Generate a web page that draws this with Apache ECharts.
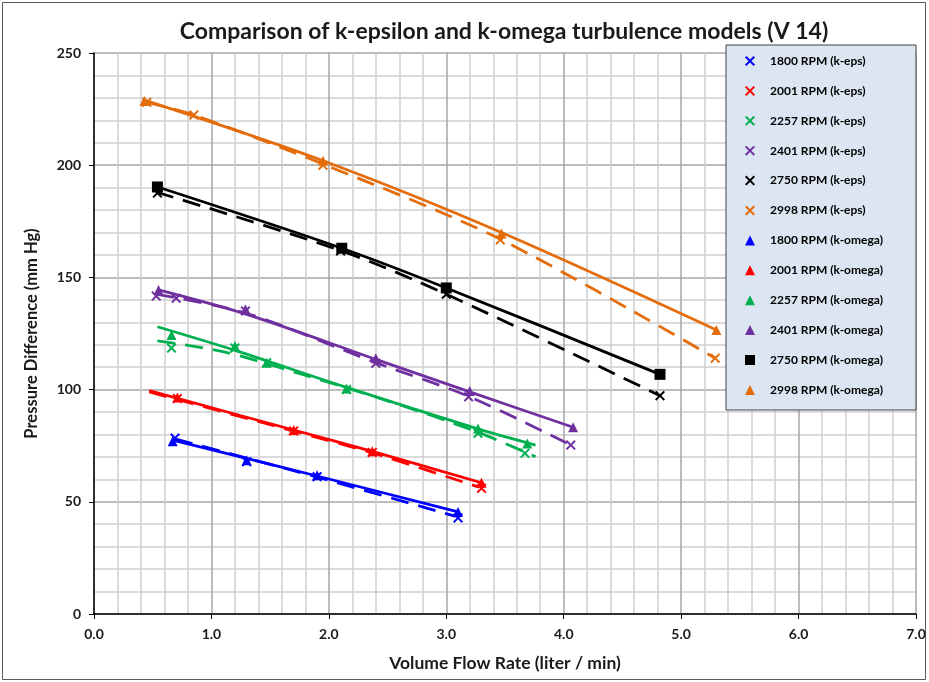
<!DOCTYPE html>
<html>
<head>
<meta charset="utf-8">
<script src="https://cdn.jsdelivr.net/npm/echarts@6/dist/echarts.min.js"></script>
<style>
  html, body { margin: 0; padding: 0; background: #fff; }
  #chart { width: 929px; height: 682px; }
</style>
</head>
<body>
<div id="chart"></div>
<script>
// speeds, in legend order
const rpms = ['1800', '2001', '2257', '2401', '2750', '2998']

// simulated points, k-epsilon model  [flow l/min, dp mmHg]
const eps1800 = [[0.69, 78.4], [1.30, 67.9], [1.90, 61.2], [3.10, 42.8]]
const eps2001 = [[0.71, 96.0], [1.70, 81.5], [2.37, 72.0], [3.30, 56.0]]
const eps2257 = [[0.66, 118.5], [1.20, 118.5], [1.47, 112.0], [2.15, 100.0], [3.27, 80.5], [3.67, 71.6]]
const eps2401 = [[0.53, 141.7], [0.70, 140.7], [1.29, 135.0], [2.40, 111.7], [3.19, 96.8], [4.06, 75.3]]
const eps2750 = [[0.54, 187.6], [2.10, 161.8], [3.00, 142.5], [4.82, 97.3]]
const eps2998 = [[0.45, 228.0], [0.85, 222.4], [1.95, 200.0], [3.46, 166.7], [5.29, 114.0]]

// simulated points, k-omega model
const omg1800 = [[0.67, 77.0], [1.30, 68.5], [1.90, 61.8], [3.10, 45.5]]
const omg2001 = [[0.71, 96.5], [1.70, 82.0], [2.37, 72.5], [3.30, 58.5]]
const omg2257 = [[0.66, 124.3], [1.20, 119.4], [1.47, 112.0], [2.15, 100.5], [3.27, 82.7], [3.69, 76.0]]
const omg2401 = [[0.55, 144.4], [1.29, 135.8], [2.40, 114.0], [3.20, 99.4], [4.08, 83.2]]
const omg2750 = [[0.54, 190.3], [2.11, 163.0], [3.00, 145.3], [4.82, 106.8]]
const omg2998 = [[0.43, 228.6], [1.95, 202.0], [3.47, 169.6], [5.30, 126.6]]

// trend lines
const epsTrend1800 = [[0.69, 78.0], [1.90, 61.0], [3.08, 43.5]]
const epsTrend2001 = [[0.47, 99.0], [1.70, 81.5], [2.37, 71.8], [3.28, 56.5]]
const epsTrend2257 = [[0.54, 121.7], [1.09, 117.0], [1.60, 109.5], [2.50, 95.0], [3.27, 81.0], [3.76, 70.1]]
const epsTrend2401 = [[0.53, 142.5], [1.30, 134.0], [2.40, 112.0], [3.19, 97.0], [4.06, 75.3]]
const epsTrend2750 = [[0.53, 188.0], [2.10, 162.0], [3.00, 142.5], [4.82, 97.3]]
const epsTrend2998 = [[0.45, 228.0], [0.85, 222.4], [1.95, 200.5], [3.46, 167.0], [5.29, 114.0]]

const omgTrend1800 = [[0.67, 77.5], [1.90, 61.5], [3.10, 45.5]]
const omgTrend2001 = [[0.47, 99.5], [1.70, 82.0], [2.37, 72.5], [3.30, 58.5]]
const omgTrend2257 = [[0.54, 128.0], [1.20, 117.5], [2.15, 101.0], [3.27, 82.5], [3.76, 75.3]]
const omgTrend2401 = [[0.55, 144.4], [1.30, 133.5], [2.40, 113.5], [3.20, 99.0], [4.08, 83.2]]
const omgTrend2750 = [[0.53, 190.5], [2.11, 163.0], [3.00, 145.3], [4.82, 106.8]]
const omgTrend2998 = [[0.43, 229.0], [1.95, 202.0], [3.47, 170.0], [5.30, 126.6]]

const xTicks = [0, 1, 2, 3, 4, 5, 6, 7]
const yTicks = [0, 50, 100, 150, 200, 250]

const epsPts = [eps1800, eps2001, eps2257, eps2401, eps2750, eps2998]
const omgPts = [omg1800, omg2001, omg2257, omg2401, omg2750, omg2998]
const epsTrends = [epsTrend1800, epsTrend2001, epsTrend2257, epsTrend2401, epsTrend2750, epsTrend2998]
const omgTrends = [omgTrend1800, omgTrend2001, omgTrend2257, omgTrend2401, omgTrend2750, omgTrend2998]

const colors = ['#0000ff', '#ff0000', '#00b050', '#7030a0', '#000000', '#e46c0a']
const omgSymbols = ['triangle', 'triangle', 'triangle', 'triangle', 'rect', 'triangle']
const cross = 'path://M0,1.4 L1.4,0 L5,3.6 L8.6,0 L10,1.4 L6.4,5 L10,8.6 L8.6,10 L5,6.4 L1.4,10 L0,8.6 L3.6,5 Z'
const font = 'Lato'

const series = []
rpms.forEach((rpm, i) => {
  series.push({
    type: 'line', data: epsTrends[i], smooth: 0.3, symbol: 'none', silent: true, z: 2,
    lineStyle: { color: colors[i], width: 2.8, type: [18, 10] }
  })
})
rpms.forEach((rpm, i) => {
  series.push({
    type: 'line', data: omgTrends[i], smooth: 0.3, symbol: 'none', silent: true, z: 2,
    lineStyle: { color: colors[i], width: 2.8 }
  })
})
rpms.forEach((rpm, i) => {
  series.push({
    name: rpm + ' RPM (k-eps)', type: 'scatter', data: epsPts[i], z: 3,
    symbol: cross, symbolSize: 10, itemStyle: { color: colors[i], opacity: 1 }
  })
})
rpms.forEach((rpm, i) => {
  series.push({
    name: rpm + ' RPM (k-omega)', type: 'scatter', data: omgPts[i], z: 3,
    symbol: omgSymbols[i], symbolSize: omgSymbols[i] === 'rect' ? 11 : 10,
    itemStyle: { color: colors[i], opacity: 1 }
  })
})

const chart = echarts.init(document.getElementById('chart'))

chart.setOption({
  animation: false,
  title: {
    text: 'Comparison of k-epsilon and k-omega turbulence models (V 14)',
    left: 504, top: 20, padding: 0, textAlign: 'center',
    textStyle: { fontFamily: font, fontSize: 23, fontWeight: 'bold', color: '#1a1a1a' }
  },
  grid: { left: 94, right: 13, top: 53, bottom: 68 },
  xAxis: {
    type: 'value', min: xTicks[0], max: xTicks[xTicks.length - 1], interval: 1,
    name: 'Volume Flow Rate (liter / min)', nameLocation: 'middle', nameGap: 40,
    nameTextStyle: { fontFamily: font, fontSize: 17.5, fontWeight: 'bold', color: '#1a1a1a' },
    axisLine: { onZero: false, lineStyle: { color: '#000', width: 1.5 } },
    axisTick: { show: true, length: 5, lineStyle: { color: '#000' } },
    axisLabel: {
      margin: 13, fontFamily: font, fontSize: 14, fontWeight: 'bold', color: '#1a1a1a',
      formatter: v => v.toFixed(1)
    },
    splitLine: { lineStyle: { color: '#a6a6a6', width: 1.5 } },
    minorTick: { show: false, splitNumber: 5 },
    minorSplitLine: { show: true, lineStyle: { color: '#cfcfcf', width: 1.5 } }
  },
  yAxis: {
    type: 'value', min: yTicks[0], max: yTicks[yTicks.length - 1], interval: 50,
    name: 'Pressure Difference (mm Hg)', nameLocation: 'middle', nameGap: 54,
    nameTextStyle: { fontFamily: font, fontSize: 16.5, fontWeight: 'bold', color: '#1a1a1a' },
    axisLine: { show: true, lineStyle: { color: '#000', width: 1.5 } },
    axisTick: { show: true, length: 5, lineStyle: { color: '#000' } },
    axisLabel: { margin: 13, fontFamily: font, fontSize: 14, fontWeight: 'bold', color: '#1a1a1a' },
    splitLine: { lineStyle: { color: '#a6a6a6', width: 1.5 } },
    minorTick: { show: false, splitNumber: 5 },
    minorSplitLine: { show: true, lineStyle: { color: '#cfcfcf', width: 1.5 } }
  },
  legend: {
    orient: 'vertical', left: 745, top: 55, padding: 0,
    itemWidth: 10, itemHeight: 10, itemGap: 17.9, z: 5,
    textStyle: { fontFamily: font, fontSize: 12, fontWeight: 'bold', color: '#000', padding: [0, 0, 0, 10] },
    data: series.filter(s => s.name).map(s => s.name)
  },
  graphic: [
    { type: 'rect', z: 4, shape: { x: 726, y: 45, width: 190, height: 365 },
      style: { fill: '#dce6f2', stroke: '#404040', lineWidth: 1 } },
    { type: 'rect', z: 0, silent: true, shape: { x: 2.5, y: 2.5, width: 923, height: 677 },
      style: { fill: 'none', stroke: '#595959', lineWidth: 1 } }
  ],
  series: series
})
</script>
</body>
</html>
